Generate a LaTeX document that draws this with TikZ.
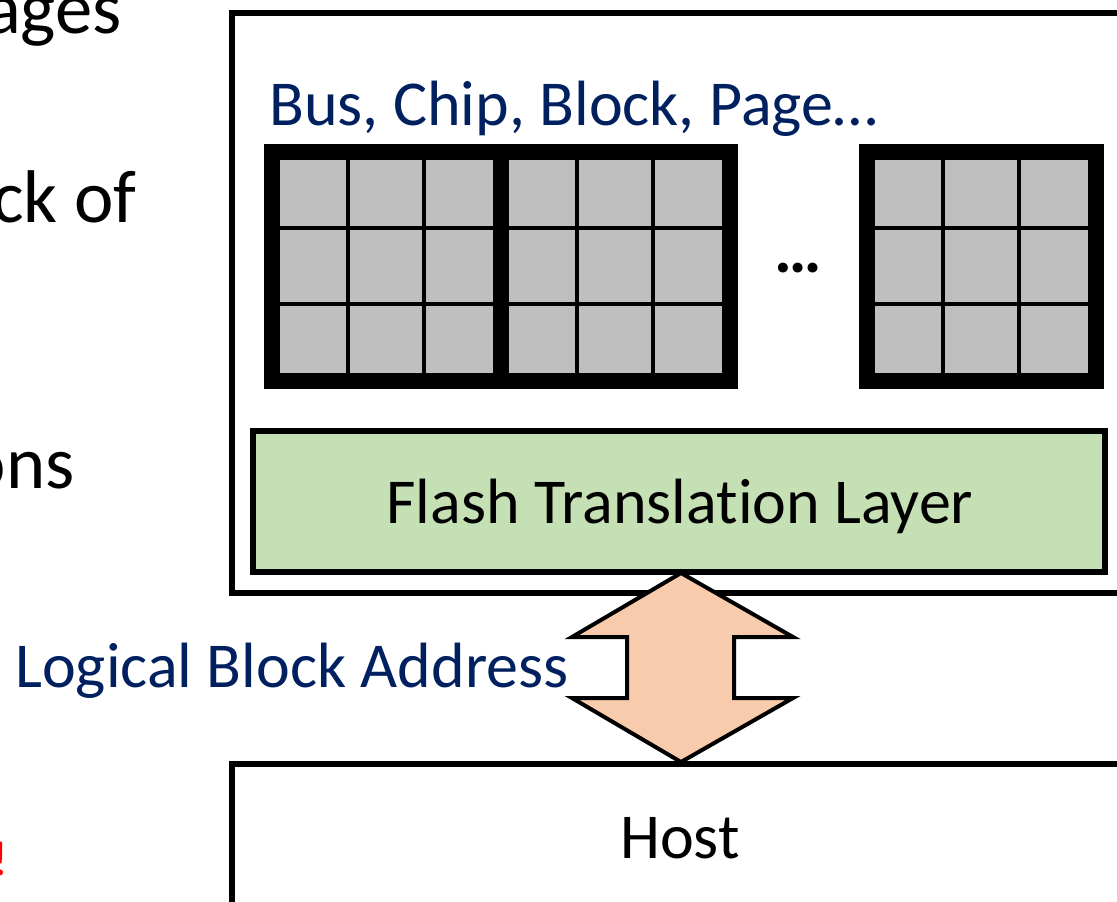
\documentclass[tikz,border=0pt]{standalone}
\usepackage{fontspec}
\setmainfont{Carlito}[Ligatures=NoCommon]
\usetikzlibrary{calc}
\definecolor{navy}{HTML}{002060}
\definecolor{ftlgreen}{HTML}{C5E0B4}
\definecolor{peach}{HTML}{F8CBAD}
\definecolor{cellgray}{HTML}{BFBFBF}
\tikzset{
  bigbox/.style={draw=black, line width=4.5pt, fill=white, inner sep=0pt, minimum width=681pt},
  ftlbox/.style={draw=black, line width=4.5pt, fill=ftlgreen, inner sep=0pt, minimum width=639pt, minimum height=105.75pt},
  blockbox/.style={draw=black, line width=12pt, fill=cellgray, inner sep=0pt, minimum width=171.75pt, minimum height=171.75pt},
  gridline/.style={draw=black, line width=3pt},
  maintext/.style={inner sep=0pt, font=\fontsize{48}{58}\selectfont},
  bluetext/.style={maintext, text=navy},
  sidetext/.style={inner sep=0pt, anchor=base east, font=\fontsize{56}{66}\selectfont},
  arrowshape/.style={draw=black, line width=3pt, fill=peach, line join=miter},
}
\begin{document}
\begin{tikzpicture}[x=0.75pt,y=-0.75pt]
\useasboundingbox (0,0) rectangle (1117,901);
% side text fragments
\node[sidetext] (t1) at (122,33) {ages};
\node[sidetext] (t2) at (137,222) {ck of};
\node[sidetext] (t3) at (75,488) {ons};
\node[inner sep=0pt, anchor=base east, text=red, font=\fontsize{37}{44}\selectfont] (t4) at (9,875) {!};
% SSD box
\node[bigbox, minimum height=435pt] (ssd) at (686,303) {};
% host box
\node[bigbox, minimum height=132pt] (host) at (686,852) {};
\node[maintext, anchor=base] (hostlabel) at (680,858) {Host};
% bus text
\node[bluetext, anchor=base west] (bus) at (269,125) {Bus, Chip, Block, Page…};
% blocks
\foreach \n/\cx in {1/386.5, 2/615.5, 3/981.5} {
  \node[blockbox] (blk\n) at (\cx,266.5) {};
  \foreach \o in {-38.5, 37.5} {
    \draw[gridline] ($(blk\n.center)+(\o,-107)$) -- ($(blk\n.center)+(\o,107)$);
    \draw[gridline] ($(blk\n.center)+(-107,\o)$) -- ($(blk\n.center)+(107,\o)$);
  }
}
\node[inner sep=0pt, anchor=base, font=\fontsize{50}{60}\selectfont\bfseries] (dots) at (798,272) {…};
% FTL
\node[ftlbox] (ftl) at (679,501.5) {};
\node[maintext, anchor=base] (ftllabel) at (680,523) {Flash Translation Layer};
% double arrow between FTL and host
\coordinate (atop) at (681,573);
\coordinate (abot) at (681,762);
\draw[arrowshape] (atop) -- ($(atop)+(112,64)$) -- ($(atop)+(53,64)$) -- ($(abot)+(53,-64)$) -- ($(abot)+(112,-64)$)
  -- (abot) -- ($(abot)+(-109,-64)$) -- ($(abot)+(-54,-64)$) -- ($(atop)+(-54,64)$) -- ($(atop)+(-109,64)$) -- cycle;
\node[bluetext, anchor=base west] (lba) at (15,687) {Logical Block Address};
\end{tikzpicture}
\end{document}
